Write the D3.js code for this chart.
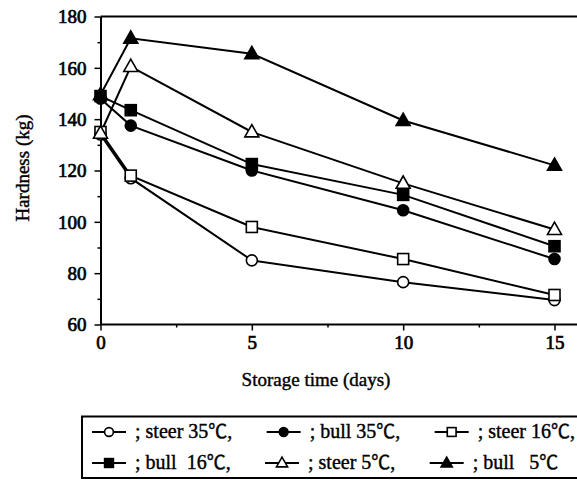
<!DOCTYPE html>
<html>
<head>
<meta charset="utf-8">
<script src="https://cdn.jsdelivr.net/npm/d3@7"></script>
<style>
  html, body { margin: 0; padding: 0; background: #fff; }
  svg { display: block; }
  svg text { fill: #000; }
</style>
</head>
<body>
<svg id="chart" width="577" height="480"></svg>
<script>
// Storage days measured
const days = [0, 1, 5, 10, 15];

// Hardness (kg) per treatment group
const steer35 = [134, 117, 85, 76.5, 69.5];
const bull35  = [148, 137.5, 120, 104.5, 85.5];
const steer16 = [135, 118, 98, 85.5, 71.5];
const bull16  = [149, 143.5, 122.5, 110.5, 90.5];
const steer5  = [134.5, 160.5, 135, 115, 97];
const bull5   = [149.5, 171.5, 165.5, 139.5, 122];

// Series labels (text before the degree sign), values, marker shape, filled?
const seriesNames  = ["steer 35", "bull 35", "steer 16", "bull  16", "steer 5", "bull   5"];
const seriesEnds   = [",", ",", ",", ",", ",", ""];
const seriesValues = [steer35, bull35, steer16, bull16, steer5, bull5];
const seriesShapes = ["circle", "circle", "square", "square", "triangle", "triangle"];
const seriesFilled = [false, true, false, true, false, true];

// Axis ticks
const yTicks = [60, 80, 100, 120, 140, 160, 180];
const yMinorTicks = [70, 90, 110, 130, 150, 170];
const xTicks = [0, 5, 10, 15];
const xMinorTicks = [2.5, 7.5, 12.5];

const SERIF = "'Liberation Serif', 'Times New Roman', Tinos, 'DejaVu Serif', serif";
const CJK = "'Noto Sans CJK JP', 'Noto Sans CJK SC', sans-serif";

const svg = d3.select("#chart");

const x = d3.scaleLinear().domain([0, 15]).range([100.5, 554.5]);
const y = d3.scaleLinear().domain([60, 180]).range([324.5, 16.5]);

// Frame: top border and axes
const g = svg.append("g");
g.append("line").attr("x1", x(0)).attr("x2", 577).attr("y1", y(180)).attr("y2", y(180))
  .attr("stroke", "#000").attr("stroke-width", 2);

const yAx = g.append("g").attr("transform", `translate(${x(0)},0)`)
  .call(d3.axisLeft(y).tickValues(yTicks).tickSize(6).tickPadding(8).tickSizeOuter(0));
yAx.select(".domain").attr("stroke-width", 2);
yAx.selectAll(".tick line").attr("stroke-width", 1.5);
yAx.selectAll(".tick text").attr("font-size", 19).style("font-family", SERIF)
  .attr("stroke", "#000").attr("stroke-width", 0.7).attr("dy", "0.34em");
g.append("g").attr("transform", `translate(${x(0)},0)`)
  .call(d3.axisLeft(y).tickValues(yMinorTicks).tickSize(3).tickFormat(""))
  .call(s => s.select(".domain").remove())
  .selectAll("line").attr("stroke-width", 1.5);

const xAx = g.append("g").attr("transform", `translate(0,${y(60)})`)
  .call(d3.axisBottom(x).tickValues(xTicks).tickSize(6).tickPadding(5).tickSizeOuter(0));
xAx.select(".domain").remove();
xAx.selectAll(".tick line").attr("stroke-width", 1.5);
xAx.selectAll(".tick text").attr("font-size", 19).style("font-family", SERIF)
  .attr("stroke", "#000").attr("stroke-width", 0.7);
g.append("line").attr("x1", x(0)).attr("x2", 577).attr("y1", y(60)).attr("y2", y(60))
  .attr("stroke", "#000").attr("stroke-width", 2);
g.append("g").attr("transform", `translate(0,${y(60)})`)
  .call(d3.axisBottom(x).tickValues(xMinorTicks).tickSize(3).tickFormat(""))
  .call(s => s.select(".domain").remove())
  .selectAll("line").attr("stroke-width", 1.5);

// Axis titles
svg.append("text").attr("transform", "translate(29,168) rotate(-90)")
  .attr("text-anchor", "middle").attr("font-size", 19).style("font-family", SERIF)
  .attr("stroke", "#000").attr("stroke-width", 0.4).text("Hardness (kg)");
svg.append("text").attr("x", 316).attr("y", 386)
  .attr("text-anchor", "middle").attr("font-size", 19).style("font-family", SERIF)
  .attr("stroke", "#000").attr("stroke-width", 0.4).text("Storage time (days)");

// Marker drawing helper
function drawMarker(sel, shape, filled, cx, cy, scale) {
  const s = scale || 1;
  const fill = filled ? "#000" : "#fff";
  if (shape === "circle") {
    sel.append("circle").attr("cx", cx).attr("cy", cy).attr("r", 5.5 * s)
      .attr("fill", fill).attr("stroke", "#000").attr("stroke-width", 1.6);
  } else if (shape === "square") {
    const h = 5.5 * s;
    sel.append("rect").attr("x", cx - h).attr("y", cy - h).attr("width", 2 * h).attr("height", 2 * h)
      .attr("fill", fill).attr("stroke", "#000").attr("stroke-width", 1.6);
  } else {
    const h = 7 * s;
    const pts = [[cx, cy - h * 1.05], [cx + h, cy + h * 0.7], [cx - h, cy + h * 0.7]];
    sel.append("polygon").attr("points", pts.map(p => p.join(",")).join(" "))
      .attr("fill", fill).attr("stroke", "#000").attr("stroke-width", 1.6)
      .attr("stroke-linejoin", "miter");
  }
}

// Series lines
const line = d3.line().x((d, i) => x(days[i])).y(d => y(d));
const plot = svg.append("g");
seriesValues.forEach(vals => {
  plot.append("path").datum(vals).attr("d", line)
    .attr("fill", "none").attr("stroke", "#000").attr("stroke-width", 2);
});
seriesValues.forEach((vals, k) => {
  vals.forEach((v, i) => drawMarker(plot, seriesShapes[k], seriesFilled[k], x(days[i]), y(v)));
});

// Legend: boxed, two rows of three entries, flowed left to right
const lg = svg.append("g");
lg.append("rect").attr("x", 82).attr("y", 416.5).attr("width", 520).attr("height", 61.5)
  .attr("fill", "none").attr("stroke", "#000").attr("stroke-width", 2);

const legendLeft = 92, legendRight = 575;
const symW = 34, symGap = 9;
const legendRows = [432, 463];

function legendText(k) {
  const t = lg.append("text").attr("font-size", 20).style("font-family", SERIF)
    .attr("stroke", "#000").attr("stroke-width", 0.4)
    .attr("xml:space", "preserve").style("white-space", "pre");
  t.append("tspan").text("; " + seriesNames[k]);
  t.append("tspan").style("font-family", CJK).attr("font-size", 19).text("℃");
  t.append("tspan").text(seriesEnds[k]);
  return t;
}

const texts = seriesNames.map((_, k) => legendText(k));
const widths = texts.map(t => t.node().getComputedTextLength());
// spacing after each text so that the first row spans the box
const row1Used = 3 * (symW + symGap) + widths[0] + widths[1] + widths[2];
const textGap = Math.max(4, (legendRight - legendLeft - row1Used) / 2);

[0, 1].forEach(row => {
  let cx = legendLeft;
  const sy = legendRows[row];
  for (let c = 0; c < 3; c++) {
    const k = row * 3 + c;
    lg.append("line").attr("x1", cx).attr("x2", cx + symW).attr("y1", sy).attr("y2", sy)
      .attr("stroke", "#000").attr("stroke-width", 1.8);
    drawMarker(lg, seriesShapes[k], seriesFilled[k], cx + symW / 2, sy, 0.8);
    cx += symW + symGap;
    texts[k].attr("x", cx).attr("y", sy + 6);
    cx += widths[k] + textGap;
  }
});
</script>
</body>
</html>
